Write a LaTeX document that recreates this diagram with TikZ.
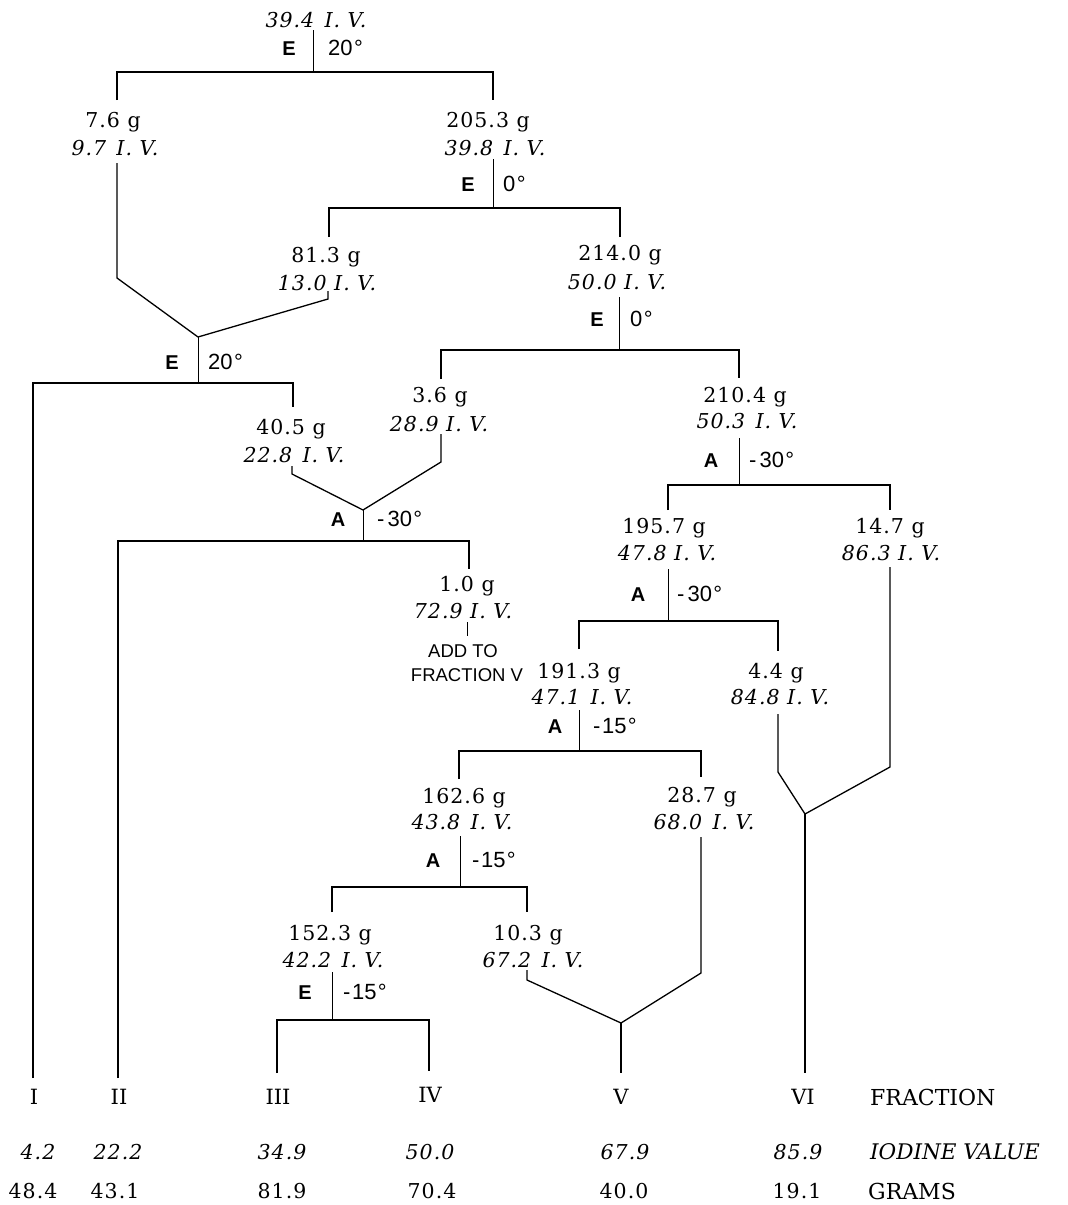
\documentclass[tikz,border=0pt]{standalone}
\usepackage{fontspec}
\newfontfamily\opfont{Liberation Sans}
\newfontfamily\nfont[LetterSpace=5]{DejaVu Serif}
\newfontfamily\tfont{DejaVu Serif}
\newcommand\ivgap{\hspace{0.5em}}
\newcommand\dg{\kern1.5pt°}
\tikzset{
  ln/.style={line width=1.3pt},
  stm/.style={line width=0.9pt},
  wt/.style={anchor=base, inner sep=0pt, font=\nfont\fontsize{20.5}{24}\selectfont},
  iv/.style={anchor=base, inner sep=0pt, font=\nfont\itshape\fontsize{20.5}{24}\selectfont},
  opl/.style={anchor=center, inner sep=0pt, font=\opfont\bfseries\fontsize{20}{22}\selectfont},
  opt/.style={anchor=west, inner sep=0pt, font=\opfont\fontsize{22}{24}\selectfont},
  addl/.style={anchor=center, inner sep=0pt, font=\opfont\fontsize{18.5}{21}\selectfont},
  frc/.style={anchor=center, inner sep=0pt, font=\tfont\fontsize{21}{24}\selectfont},
  frw/.style={anchor=west, inner sep=0pt, font=\tfont\fontsize{22}{26}\selectfont},
}
\begin{document}
\begin{tikzpicture}[x=1pt,y=-1pt]
\useasboundingbox (0,0) rectangle (1068,1205);
\fill[white] (0,0) rectangle (1068,1205);

% ---------- coordinates ----------
\coordinate (s0a) at (313,30);  \coordinate (s0b) at (313,72);
\coordinate (d0l) at (117,100); \coordinate (b0l) at (117,72);
\coordinate (b0r) at (493,72);  \coordinate (d0r) at (493,100);

\coordinate (s1a) at (493,159); \coordinate (s1b) at (493,208);
\coordinate (d1l) at (329,237); \coordinate (b1l) at (329,208);
\coordinate (b1r) at (620,208); \coordinate (d1r) at (620,237);

\coordinate (o1a) at (117,163); \coordinate (o1b) at (117,278);
\coordinate (o2a) at (328,291); \coordinate (o2b) at (328,299);
\coordinate (j1) at (198,337);  \coordinate (s2b) at (198,383);
\coordinate (f1) at (33,1078);  \coordinate (b2l) at (33,383);
\coordinate (b2r) at (293,383); \coordinate (d2r) at (293,407);

\coordinate (s3a) at (619,297); \coordinate (s3b) at (619,350);
\coordinate (d3l) at (441,379); \coordinate (b3l) at (441,350);
\coordinate (b3r) at (739,350); \coordinate (d3r) at (739,378);

\coordinate (o3a) at (292,466); \coordinate (o3b) at (292,474);
\coordinate (o4a) at (441,434); \coordinate (o4b) at (441,462);
\coordinate (j2) at (363,510);  \coordinate (s4b) at (363,541);
\coordinate (f2) at (118,1078); \coordinate (b4l) at (118,541);
\coordinate (b4r) at (469,541); \coordinate (d4r) at (469,569);
\coordinate (t1a) at (467,622); \coordinate (t1b) at (467,636);

\coordinate (s5a) at (739,438); \coordinate (s5b) at (739,485);
\coordinate (d5l) at (668,510); \coordinate (b5l) at (668,485);
\coordinate (b5r) at (890,485); \coordinate (d5r) at (890,510);

\coordinate (s6a) at (668,569); \coordinate (s6b) at (668,621);
\coordinate (d6l) at (579,649); \coordinate (b6l) at (579,621);
\coordinate (b6r) at (778,621); \coordinate (d6r) at (778,651);

\coordinate (o5a) at (890,567); \coordinate (o5b) at (890,767);
\coordinate (o6a) at (778,714); \coordinate (o6b) at (778,772);
\coordinate (j3) at (805,814);  \coordinate (f6) at (805,1073);

\coordinate (s7a) at (579,710); \coordinate (s7b) at (579,751);
\coordinate (d7l) at (459,779); \coordinate (b7l) at (459,751);
\coordinate (b7r) at (701,751); \coordinate (d7r) at (701,777);

\coordinate (s8a) at (460,836); \coordinate (s8b) at (460,887);
\coordinate (d8l) at (332,912); \coordinate (b8l) at (332,887);
\coordinate (b8r) at (527,887); \coordinate (d8r) at (527,912);

\coordinate (o7a) at (701,837); \coordinate (o7b) at (701,973);
\coordinate (o8a) at (527,970); \coordinate (o8b) at (527,980);
\coordinate (j4) at (621,1023); \coordinate (f5) at (621,1073);

\coordinate (s9a) at (332,972); \coordinate (s9b) at (332,1020);
\coordinate (f3) at (277,1073); \coordinate (b9l) at (277,1020);
\coordinate (b9r) at (429,1020); \coordinate (f4) at (429,1071);

% ---------- connectors ----------
\draw[stm] (s0a) -- (s0b);
\draw[ln] (d0l) -- (b0l) -- (b0r) -- (d0r);
\draw[stm] (s1a) -- (s1b);
\draw[ln] (d1l) -- (b1l) -- (b1r) -- (d1r);
\draw[ln] (o1a) -- (o1b) -- (j1);
\draw[ln] (o2a) -- (o2b) -- (j1);
\draw[stm] (j1) -- (s2b);
\draw[ln] (f1) -- (b2l) -- (b2r) -- (d2r);
\draw[stm] (s3a) -- (s3b);
\draw[ln] (d3l) -- (b3l) -- (b3r) -- (d3r);
\draw[ln] (o3a) -- (o3b) -- (j2);
\draw[ln] (o4a) -- (o4b) -- (j2);
\draw[stm] (j2) -- (s4b);
\draw[ln] (f2) -- (b4l) -- (b4r) -- (d4r);
\draw[stm] (t1a) -- (t1b);
\draw[stm] (s5a) -- (s5b);
\draw[ln] (d5l) -- (b5l) -- (b5r) -- (d5r);
\draw[stm] (s6a) -- (s6b);
\draw[ln] (d6l) -- (b6l) -- (b6r) -- (d6r);
\draw[ln] (o5a) -- (o5b) -- (j3);
\draw[ln] (o6a) -- (o6b) -- (j3);
\draw[ln] (j3) -- (f6);
\draw[stm] (s7a) -- (s7b);
\draw[ln] (d7l) -- (b7l) -- (b7r) -- (d7r);
\draw[stm] (s8a) -- (s8b);
\draw[ln] (d8l) -- (b8l) -- (b8r) -- (d8r);
\draw[ln] (o7a) -- (o7b) -- (j4);
\draw[ln] (o8a) -- (o8b) -- (j4);
\draw[ln] (j4) -- (f5);
\draw[stm] (s9a) -- (s9b);
\draw[ln] (f3) -- (b9l) -- (b9r) -- (f4);

% ---------- sample nodes ----------
\node[iv] (v0) at (316,27) {39.4\ivgap I. V.};
\node[wt] (w1) at (113,127) {7.6 g};
\node[iv] (v1) at (115,155) {9.7\ivgap I. V.};
\node[wt] (w2) at (488,127) {205.3 g};
\node[iv] (v2) at (495,155) {39.8\ivgap I. V.};
\node[wt] (w3) at (326,262) {81.3 g};
\node[iv] (v3) at (327,290) {13.0 I. V.};
\node[wt] (w4) at (620,260) {214.0 g};
\node[iv] (v4) at (617,289) {50.0 I. V.};
\node[wt] (w5) at (440,402) {3.6 g};
\node[iv] (v5) at (439,431) {28.9 I. V.};
\node[wt] (w6) at (291,434) {40.5 g};
\node[iv] (v6) at (294,462) {22.8\ivgap I. V.};
\node[wt] (w7) at (745,402) {210.4 g};
\node[iv] (v7) at (747,428) {50.3\ivgap I. V.};
\node[wt] (w8) at (467,591) {1.0 g};
\node[iv] (v8) at (463,618) {72.9 I. V.};
\node[wt] (w9) at (664,533) {195.7 g};
\node[iv] (v9) at (667,560) {47.8 I. V.};
\node[wt] (w10) at (890,533) {14.7 g};
\node[iv] (v10) at (891,560) {86.3 I. V.};
\node[wt] (w11) at (579,678) {191.3 g};
\node[iv] (v11) at (582,704) {47.1\ivgap I. V.};
\node[wt] (w12) at (776,678) {4.4 g};
\node[iv] (v12) at (780,704) {84.8 I. V.};
\node[wt] (w13) at (464,803) {162.6 g};
\node[iv] (v13) at (462,829) {43.8\ivgap I. V.};
\node[wt] (w14) at (702,802) {28.7 g};
\node[iv] (v14) at (704,829) {68.0\ivgap I. V.};
\node[wt] (w15) at (330,940) {152.3 g};
\node[iv] (v15) at (333,967) {42.2\ivgap I. V.};
\node[wt] (w16) at (528,940) {10.3 g};
\node[iv] (v16) at (533,967) {67.2\ivgap I. V.};

% ---------- operation labels ----------
\node[opl] (e0) at (289,49) {E};   \node[opt] (a0) at (328,48) {20\dg};
\node[opl] (e1) at (468,185) {E};  \node[opt] (a1) at (503,184) {0\dg};
\node[opl] (e2) at (597,320) {E};  \node[opt] (a2) at (630,319) {0\dg};
\node[opl] (e3) at (172,363) {E};  \node[opt] (a3) at (208,362) {20\dg};
\node[opl] (e4) at (338,520) {A};  \node[opt] (a4) at (377,519) {-\kern3pt30\dg};
\node[opl] (e5) at (711,461) {A};  \node[opt] (a5) at (749,460) {-\kern3pt30\dg};
\node[opl] (e6) at (638,595) {A};  \node[opt] (a6) at (677,594) {-\kern3pt30\dg};
\node[opl] (e7) at (555,727) {A};  \node[opt] (a7) at (593,726) {-\kern1.5pt15\dg};
\node[opl] (e8) at (433,861) {A};  \node[opt] (a8) at (472,860) {-\kern1.5pt15\dg};
\node[opl] (e9) at (305,993) {E};  \node[opt] (a9) at (343,992) {-\kern1.5pt15\dg};

\node[addl] (add1) at (463,651) {ADD TO};
\node[addl] (add2) at (467,675) {FRACTION V};

% ---------- bottom table ----------
\node[frc] (r1) at (34,1097) {I};
\node[frc] (r2) at (119,1097) {II};
\node[frc] (r3) at (278,1097) {III};
\node[frc] (r4) at (430,1095) {IV};
\node[frc] (r5) at (621,1097) {V};
\node[frc] (r6) at (803,1097) {VI};
\node[frw] (rl) at (870,1097) {FRACTION};

\node[iv, anchor=center] (i1) at (38,1152) {4.2};
\node[iv, anchor=center] (i2) at (118,1152) {22.2};
\node[iv, anchor=center] (i3) at (282,1152) {34.9};
\node[iv, anchor=center] (i4) at (430,1152) {50.0};
\node[iv, anchor=center] (i5) at (625,1152) {67.9};
\node[iv, anchor=center] (i6) at (798,1152) {85.9};
\node[frw, font=\tfont\itshape\fontsize{21.5}{26}\selectfont] (il) at (870,1152) {IODINE VALUE};

\node[wt, anchor=center] (g1) at (33,1191) {48.4};
\node[wt, anchor=center] (g2) at (115,1191) {43.1};
\node[wt, anchor=center] (g3) at (282,1191) {81.9};
\node[wt, anchor=center] (g4) at (432,1191) {70.4};
\node[wt, anchor=center] (g5) at (624,1191) {40.0};
\node[wt, anchor=center] (g6) at (797,1191) {19.1};
\node[frw] (gl) at (868,1191) {GRAMS};
\end{tikzpicture}
\end{document}
